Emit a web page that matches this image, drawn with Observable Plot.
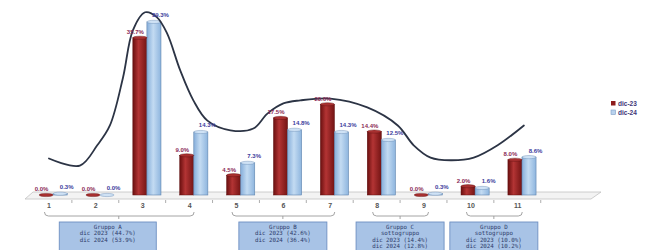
<!DOCTYPE html>
<html>
<head>
<meta charset="utf-8">
<script src="https://cdn.jsdelivr.net/npm/d3@7"></script>
<script src="https://cdn.jsdelivr.net/npm/@observablehq/plot@0.6"></script>
<style>
  html, body { margin: 0; padding: 0; background: #fff; }
  #chart svg { display: block; font-family: "Liberation Sans", Arial, sans-serif; }
</style>
</head>
<body>
<div id="chart"></div>
<script>
// ---- data ----
const categories = [1, 2, 3, 4, 5, 6, 7, 8, 9, 10, 11];
const dic23 = [0.0, 0.0, 35.7, 9.0, 4.5, 17.5, 20.6, 14.4, 0.0, 2.0, 8.0];
const dic24 = [0.3, 0.0, 39.3, 14.3, 7.3, 14.8, 14.3, 12.5, 0.3, 1.6, 8.6];
const seriesNames = ["dic-23", "dic-24"];

// smooth trend curve (position on the category axis, value in %)
const trendX = [1.00, 1.66, 2.03, 2.30, 2.58, 2.79, 3.05, 3.30, 3.52, 3.80, 4.08, 4.38, 4.87, 5.36, 5.66, 6.00, 6.36, 7.00, 7.79, 8.44, 8.78, 9.14, 9.57, 10.06, 10.57, 11.13];
const trendY = [8.4, 6.8, 11.4, 15.9, 26.8, 37.5, 41.6, 40.5, 36.8, 28.4, 21.6, 17.0, 14.8, 15.2, 18.6, 20.9, 21.6, 22.0, 20.0, 15.9, 11.4, 8.6, 8.0, 8.6, 11.4, 15.9];

// groups shown in the boxes under the axis
const groupNames = [["Gruppo A"], ["Gruppo B"], ["Gruppo C", "sottogruppo"], ["Gruppo D", "sottogruppo"]];
const groupStart = [1, 5, 8, 10];
const groupEnd = [4, 7, 9, 11];

// ---- derived tables ----
const bars = categories.map((c, i) => ({c, red: dic23[i], blue: dic24[i]}));
const trend = trendX.map((x, i) => ({x, y: trendY[i]}));
const fmt = v => v.toFixed(1) + "%";

const RED_C = "#8E1B1B";

function defsMark() {
  const g = d3.create("svg:defs");
  const r = g.append("linearGradient").attr("id", "gRed").attr("x1", 0).attr("x2", 1).attr("y1", 0).attr("y2", 0);
  r.append("stop").attr("offset", "0%").attr("stop-color", "#6A0F0F");
  r.append("stop").attr("offset", "40%").attr("stop-color", "#B33434");
  r.append("stop").attr("offset", "100%").attr("stop-color", "#741414");
  const b = g.append("linearGradient").attr("id", "gBlue").attr("x1", 0).attr("x2", 1).attr("y1", 0).attr("y2", 0);
  b.append("stop").attr("offset", "0%").attr("stop-color", "#86AEDA");
  b.append("stop").attr("offset", "45%").attr("stop-color", "#C3DBF2");
  b.append("stop").attr("offset", "100%").attr("stop-color", "#8EB5DE");
  return g.node();
}

function floorMark(index, scales, values, dim) {
  const {x, y} = scales;
  const g = d3.create("svg:g");
  const y0 = y(0);
  const xl = dim.marginLeft, xr = dim.width - dim.marginRight;
  g.append("polygon")
    .attr("points", [[xl, y0 + 4], [xr - 6, y0 + 4], [xr + 4, y0 - 3], [xl + 8, y0 - 3]].map(p => p.join(",")).join(" "))
    .attr("fill", "#f3f3f3").attr("stroke", "#c2c2c2").attr("stroke-width", 0.8);
  const seps = categories.map(c => c + 0.5);
  g.selectAll("line.sep").data(seps).join("line")
    .attr("x1", d => x(d)).attr("x2", d => x(d))
    .attr("y1", y0 + 5).attr("y2", y0 + 8)
    .attr("stroke", "#999").attr("stroke-width", 0.8);
  return g.node();
}

function capsMark(index, scales) {
  const {x, y} = scales;
  const g = d3.create("svg:g");
  bars.forEach(d => {
    g.append("ellipse").attr("cx", (x(d.c - 0.2) + x(d.c + 0.1)) / 2).attr("cy", y(d.red))
      .attr("rx", (x(d.c + 0.1) - x(d.c - 0.2)) / 2).attr("ry", 1.6)
      .attr("fill", "#A83030").attr("stroke", "#5E0E0E").attr("stroke-width", 0.4);
    g.append("ellipse").attr("cx", (x(d.c + 0.1) + x(d.c + 0.4)) / 2).attr("cy", y(d.blue))
      .attr("rx", (x(d.c + 0.4) - x(d.c + 0.1)) / 2).attr("ry", 1.6)
      .attr("fill", "#CFE2F5").attr("stroke", "#5F84AE").attr("stroke-width", 0.4);
  });
  return g.node();
}

function groupsMark(index, scales, values, dim) {
  const {x, y} = scales;
  const g = d3.create("svg:g");
  const y0 = y(0);
  groupNames.forEach((name, i) => {
    const xa = x(groupStart[i]) - 4, xb = x(groupEnd[i]) + 5, xm = x((groupStart[i] + groupEnd[i]) / 2);
    const by = y0 + 21;
    g.append("path")
      .attr("d", `M${xa},${by - 4} Q${xa},${by} ${xa + 4},${by} L${xb - 4},${by} Q${xb},${by} ${xb},${by - 4} M${xm},${by} L${xm},${by + 3}`)
      .attr("fill", "none").attr("stroke", "#9a9a9a").attr("stroke-width", 0.9);
    const s23 = d3.sum(d3.range(groupStart[i], groupEnd[i] + 1), c => dic23[c - 1]);
    const s24 = d3.sum(d3.range(groupStart[i], groupEnd[i] + 1), c => dic24[c - 1]);
    const lines = [...name, "dic 2023 (" + fmt(s23) + ")", "dic 2024 (" + fmt(s24) + ")"];
    const w = i === 0 ? 97 : 88;
    const cx = i === 0 ? xm - 11 : xm;
    const top = y0 + 27;
    g.append("rect").attr("x", cx - w / 2).attr("y", top).attr("width", w).attr("height", 40)
      .attr("fill", "#A8C3E6").attr("stroke", "#6E8FC2").attr("stroke-width", 0.9);
    lines.forEach((t, j) => {
      g.append("text").attr("x", cx).attr("y", top + 7 + j * 6.3)
        .attr("text-anchor", "middle").attr("font-size", 5.8)
        .attr("font-family", "'DejaVu Sans Mono', monospace")
        .attr("fill", "#2E3C6A").text(t);
    });
  });
  return g.node();
}

function legendMark(index, scales, values, dim) {
  const g = d3.create("svg:g");
  const lx = dim.width - dim.marginRight + 14, ly = 104;
  [RED_C, "#B9D3EE"].forEach((col, i) => {
    g.append("rect").attr("x", lx).attr("y", ly + i * 9 - 3).attr("width", 4.5).attr("height", 4.5)
      .attr("fill", col).attr("stroke", i ? "#7C9CC5" : "none").attr("stroke-width", 0.6);
    g.append("text").attr("x", lx + 7).attr("y", ly + i * 9 + 1.5)
      .attr("text-anchor", "start")
      .attr("font-size", 6.5).attr("font-weight", "bold").attr("fill", "#3E3678").text(seriesNames[i]);
  });
  return g.node();
}

const chart = Plot.plot({
  width: 659,
  height: 250,
  marginLeft: 25,
  marginRight: 62,
  marginTop: 10,
  marginBottom: 55,
  style: {background: "#fff", fontFamily: "'Liberation Sans', Arial, sans-serif"},
  x: {domain: [0.5, 12.7], axis: null},
  y: {domain: [0, 42], axis: null},
  marks: [
    defsMark,
    floorMark,
    Plot.rectY(bars, {x1: d => d.c - 0.2, x2: d => d.c + 0.1, y: "red", fill: "url(#gRed)", stroke: "#5E0E0E", strokeWidth: 0.5}),
    Plot.rectY(bars, {x1: d => d.c + 0.1, x2: d => d.c + 0.4, y: "blue", fill: "url(#gBlue)", stroke: "#5F84AE", strokeWidth: 0.6}),
    capsMark,
    Plot.line(trend, {x: "x", y: "y", curve: "catmull-rom", stroke: "#2C3445", strokeWidth: 1.8}),
    Plot.text(bars, {x: d => d.c - 0.05, y: "red", text: d => fmt(d.red), dx: -5, dy: -6, fontSize: 6, fontWeight: "bold", fill: "#8A2A55"}),
    Plot.text(bars, {x: d => d.c + 0.25, y: "blue", text: d => fmt(d.blue), dx: 6, dy: -7, fontSize: 6, fontWeight: "bold", fill: "#3C3C9C"}),
    Plot.text(categories, {x: d => d, frameAnchor: "bottom", dy: 12, text: d => String(d), fontSize: 7, fontWeight: "bold", fill: "#555"}),
    groupsMark,
    legendMark
  ]
});
document.getElementById("chart").append(chart);
</script>
</body>
</html>
